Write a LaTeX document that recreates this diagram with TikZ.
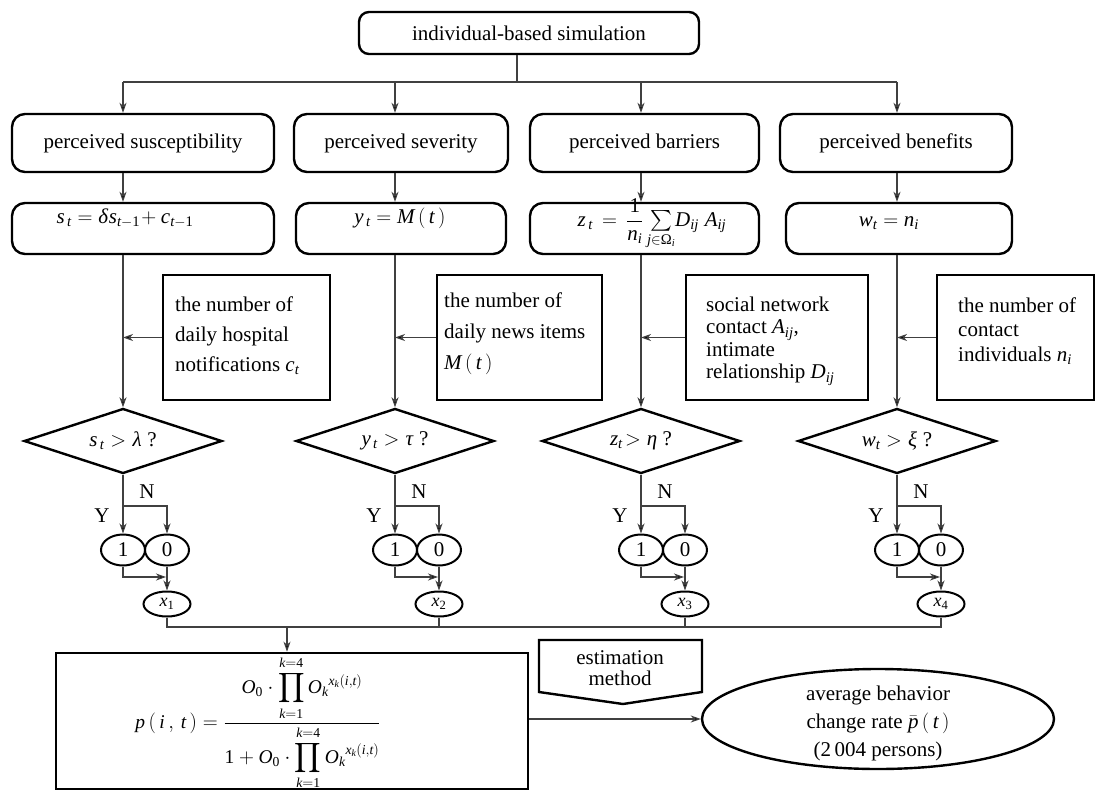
\documentclass[tikz,border=0pt]{standalone}
\usepackage{exscale}
\usepackage{mathspec}
\setmainfont{Liberation Serif}
\setmathsfont(Digits,Latin,Greek){Liberation Serif}
\usetikzlibrary{shapes.geometric,arrows.meta}
\begin{document}
\begin{tikzpicture}[x=1pt,y=-1pt,
  font=\fontsize{21}{30}\selectfont,
  rbox/.style={draw, line width=2.4pt, rounded corners=13pt, inner sep=0pt},
  sbox/.style={draw, line width=2.6pt, inner sep=0pt},
  conn/.style={line width=1.1pt, draw=black!75},
  arr/.style={conn, -{Stealth[length=10pt,width=7pt,inset=3pt,fill=black]}},
  dia/.style={draw, diamond, line width=2.4pt, minimum width=198pt, minimum height=65pt, inner sep=0pt, aspect=3},
  oval/.style={draw, ellipse, line width=2pt, minimum width=44pt, minimum height=31pt, inner sep=0pt},
  xoval/.style={draw, ellipse, line width=2pt, minimum width=47pt, minimum height=25pt, inner sep=0pt, font=\fontsize{18}{20}\selectfont},
  lbl/.style={inner sep=0pt},
  side/.style={inner sep=0pt, anchor=west, align=left}
]
\useasboundingbox (0,0) rectangle (1096,790);

% top
\node[rbox, minimum width=340pt, minimum height=42pt, rounded corners=10pt] (top) at (529,33) {individual-based simulation};
\coordinate (s) at (517,82);
\draw[conn] (s |- top.south) -- (s);

% block x positions
\coordinate (v1) at (123,82);
\coordinate (v2) at (395,82);
\coordinate (v3) at (641,82);
\coordinate (v4) at (897,82);
\draw[conn] (v1) -- (v4);

% perceived boxes
\node[rbox, minimum width=262pt, minimum height=58pt] (p1) at (143,143) {perceived susceptibility};
\node[rbox, minimum width=214pt, minimum height=58pt] (p2) at (401,143) {perceived severity};
\node[rbox, minimum width=229pt, minimum height=58pt] (p3) at (644.5,143) {perceived barriers};
\node[rbox, minimum width=232pt, minimum height=58pt] (p4) at (896,143) {perceived benefits};

% formula boxes
\node[rbox, minimum width=262pt, minimum height=51pt] (f1) at (143,228.5) {};
\node[rbox, minimum width=210pt, minimum height=51pt] (f2) at (401,228.5) {};
\node[rbox, minimum width=229pt, minimum height=51pt] (f3) at (644.5,228.5) {};
\node[rbox, minimum width=226pt, minimum height=51pt] (f4) at (899,228.5) {};
\node[lbl] (ft1) at (125,218) {$s_{\,t} = \delta s_{t-1}\!+ c_{t-1}$};
\node[lbl] (ft2) at (400,218) {$y_{\,t} = M\,(\,t\,)$};
\node[lbl] (ft3) at (652,224) {$z_{\,t}\, =\, \displaystyle\frac{1}{n_i}\textstyle\sum\limits_{j\in\Omega_i}\! D_{ij}\;A_{ij}$};
\node[lbl] (ft4) at (889,223) {$w_t = n_i$};

% side boxes
\node[sbox, minimum width=167pt, minimum height=125pt] (q1) at (246.5,337.5) {};
\node[sbox, minimum width=165pt, minimum height=125pt] (q2) at (519.5,337.5) {};
\node[sbox, minimum width=182pt, minimum height=125pt] (q3) at (777,337.5) {};
\node[sbox, minimum width=157pt, minimum height=125pt] (q4) at (1015.5,337.5) {};
\node[side, font=\fontsize{21}{30}\selectfont] (qt1) at (175,336) {the number of\\daily hospital\\notifications $c_t$};
\node[side, font=\fontsize{21}{31}\selectfont] (qt2) at (444,334) {the number of\\daily news items\\$M\,(\,t\,)$};
\node[side, font=\fontsize{21}{22.5}\selectfont] (qt3) at (706,341) {social network\\contact $A_{ij}$,\\intimate\\relationship $D_{ij}$};
\node[side, font=\fontsize{21}{24.5}\selectfont] (qt4) at (958,331) {the number of\\contact\\individuals $n_i$};

% estimation + result
\node[sbox, minimum width=472pt, minimum height=136pt] (big) at (292,721) {};
\node[lbl, font=\fontsize{19.5}{22}\selectfont] (form) at (258,723) {$\displaystyle p\,(\,i\,,\,t\,) = \frac{\displaystyle O_0\cdot\prod_{k=1}^{k=4} {O_k}^{x_k(i,t)}}{\displaystyle 1+O_0\cdot\prod_{k=1}^{k=4} {O_k}^{x_k(i,t)}}$};
\draw[line width=2.4pt, line join=miter] (539,640) coordinate (e1) -- (702,640) coordinate (e2) -- (702,692) coordinate (e3) -- (623,704) coordinate (e4) -- (539,692) coordinate (e5) -- cycle;
\node[lbl, align=center, font=\fontsize{21}{21}\selectfont] (est) at (620,668) {estimation\\method};
\node[draw, ellipse, line width=2.4pt, minimum width=352pt, minimum height=100pt, inner sep=0pt] (avg) at (878,719) {};
\node[lbl, align=center, font=\fontsize{21}{28}\selectfont] (avgt) at (878,723) {average behavior\\change rate $\bar{p}\,(\,t\,)$\\(2\,004 persons)};
\draw[arr] (big.east |- avg.west) -- (avg.west);

% per block connectors and decision
\foreach \i/\c/\t in {1/123/{$s_{\,t} > \lambda$ ?},2/395/{$y_{\,t} > \tau$ ?},3/641/{$z_t\!> \eta$ ?},4/897/{$w_t > \xi$ ?}}{
  \draw[arr] (v\i) -- (v\i |- p\i.north);
  \draw[arr] (p\i.south -| v\i) -- (f\i.north -| v\i);
  \node[dia] (d\i) at (\c,441) {\t};
  \draw[arr] (f\i.south -| v\i) -- (d\i.north);
  \draw[arr] (q\i.west) -- (q\i.west -| v\i);
  \coordinate (b\i) at (\c,506);
  \node[oval] (one\i) at (\c,550) {1};
  \node[oval] (zero\i) at (\c+44,550) {0};
  \node[xoval] (x\i) at (\c+44,604) {$x_{\i}$};
  \coordinate (l\i) at (\c,577);
  \draw[conn] (d\i.south) -- (b\i);
  \draw[arr] (b\i) -- (one\i.north);
  \draw[arr] (b\i) -| (zero\i.north);
  \draw[arr] (one\i.south) |- ([xshift=-1pt]zero\i.south |- l\i);
  \draw[arr] (zero\i.south) -- (x\i.north);
  \node[lbl] (n\i) at (\c+24,492) {N};
  \node[lbl] (y\i) at (\c-21,516) {Y};
}

% junction
\coordinate (j) at (287,627);
\draw[conn] (x1.south) -- (x1.south |- j) -- (x4.south |- j) -- (x4.south);
\draw[conn] (x2.south) -- (x2.south |- j);
\draw[conn] (x3.south) -- (x3.south |- j);
\draw[arr] (j) -- (big.north -| j);
\end{tikzpicture}
\end{document}
